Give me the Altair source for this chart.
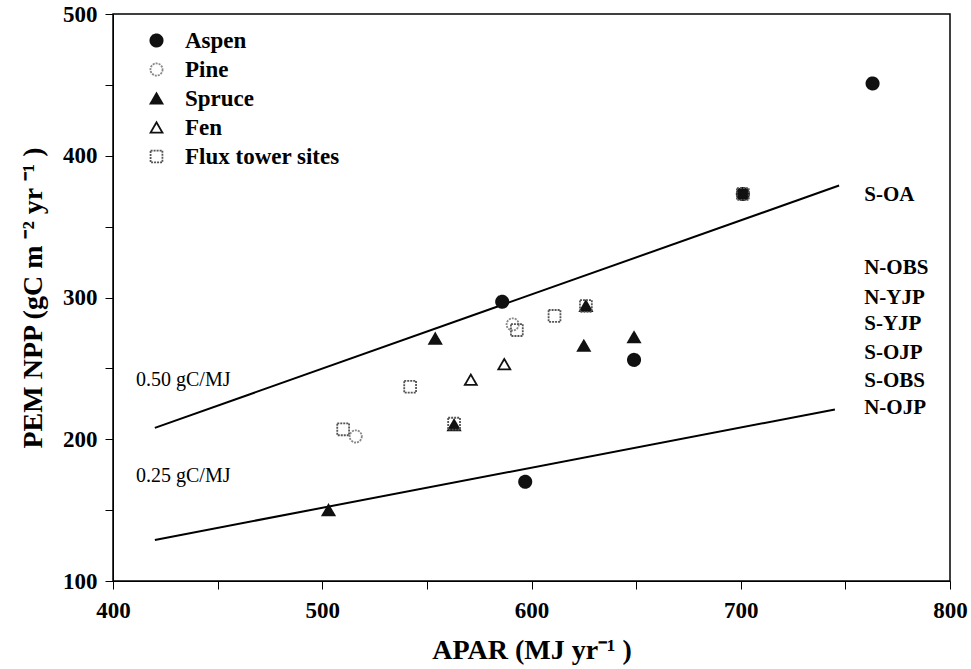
import altair as alt
import pandas as pd

# ---- data ----
series_names = ["Aspen", "Pine", "Spruce", "Fen", "Flux tower sites"]

aspen_x = [763, 701, 586, 649, 597]
aspen_y = [451, 373, 297, 256, 170]
pine_x = [516, 591]
pine_y = [202, 281]
spruce_x = [503, 554, 563, 626, 625, 649]
spruce_y = [150, 271, 210, 294, 266, 272]
fen_x = [571, 587]
fen_y = [242, 253]
flux_x = [701, 626, 611, 593, 542, 510, 563]
flux_y = [373, 294, 287, 277, 237, 207, 211]

line_names = ["0.50 gC/MJ", "0.25 gC/MJ"]
line_x_start = [420, 420]
line_x_end = [747, 745]
line_y_start = [208, 129]
line_y_end = [379, 221]
line_label_x = [411, 411]
line_label_y = [242, 174]

site_labels = ["S-OA", "N-OBS", "N-YJP", "S-YJP", "S-OJP", "S-OBS", "N-OJP"]
site_label_y = [372, 321, 300, 281, 261, 241, 222]
site_label_x = 759

x_ticks = list(range(400, 801, 50))
y_ticks = list(range(100, 501, 50))

# ---- tables ----
rows = []
for name, xs, ys in [("Aspen", aspen_x, aspen_y), ("Pine", pine_x, pine_y),
                     ("Spruce", spruce_x, spruce_y), ("Fen", fen_x, fen_y),
                     ("Flux tower sites", flux_x, flux_y)]:
    for a, b in zip(xs, ys):
        rows.append({"series": name, "apar": a, "npp": b})
pts = pd.DataFrame(rows)

lines = pd.DataFrame(
    [{"line": n, "apar": xs, "npp": ys} for n, xs, ys in zip(line_names, line_x_start, line_y_start)]
    + [{"line": n, "apar": xe, "npp": ye} for n, xe, ye in zip(line_names, line_x_end, line_y_end)]
)
line_lab = pd.DataFrame({"label": line_names, "apar": line_label_x, "npp": line_label_y})
sites = pd.DataFrame({"label": site_labels, "apar": [site_label_x] * len(site_labels), "npp": site_label_y})

SERIF = "Liberation Serif"

xscale = alt.Scale(domain=[400, 800], nice=False, zero=False)
yscale = alt.Scale(domain=[100, 500], nice=False, zero=False)

xaxis = alt.Axis(values=x_ticks, labelExpr="datum.value % 100 == 0 ? datum.label : ''",
                 grid=False, tickSize=8, labelPadding=10, labelFontSize=23, labelFont=SERIF,
                 labelFontWeight="bold", titleFontSize=28, titleFont=SERIF, titleFontWeight="bold",
                 titlePadding=14, domainColor="black", tickColor="black", labelColor="black",
                 titleColor="black", labelFlush=False)
yaxis = alt.Axis(values=y_ticks, labelExpr="datum.value % 100 == 0 ? datum.label : ''",
                 grid=False, tickSize=8, labelPadding=8, labelFontSize=23, labelFont=SERIF,
                 labelFontWeight="bold", titleFontSize=28, titleFont=SERIF, titleFontWeight="bold",
                 titlePadding=15, domainColor="black", tickColor="black", labelColor="black",
                 titleColor="black", labelFlush=False)

shape_range = ["circle", "circle", "triangle-up", "triangle-up", "square"]
fill_range = ["#111111", "transparent", "#111111", "transparent", "transparent"]
stroke_range = ["#111111", "#888888", "#111111", "#111111", "#555555"]
size_range = [150, 140, 230, 230, 420]
dash_range = [[1, 0], [2, 1], [1, 0], [1, 0], [2, 1]]

points = alt.Chart(pts).mark_point(strokeWidth=1.8, opacity=1).encode(
    x=alt.X("apar:Q", scale=xscale, axis=xaxis, title="APAR (MJ yr⁻¹ )"),
    y=alt.Y("npp:Q", scale=yscale, axis=yaxis, title="PEM NPP (gC m ⁻² yr ⁻¹ )"),
    shape=alt.Shape("series:N", scale=alt.Scale(domain=series_names, range=shape_range),
                    legend=alt.Legend(orient="none", legendX=32, legendY=15, title=None,
                                      labelFont=SERIF, labelFontSize=23, labelFontWeight="bold",
                                      labelColor="black", rowPadding=5, symbolStrokeWidth=1.8,
                                      labelOffset=17, padding=0, labelLimit=0)),
    fill=alt.Fill("series:N", scale=alt.Scale(domain=series_names, range=fill_range)),
    stroke=alt.Stroke("series:N", scale=alt.Scale(domain=series_names, range=stroke_range)),
    size=alt.Size("series:N", scale=alt.Scale(domain=series_names, range=size_range)),
    strokeDash=alt.StrokeDash("series:N", scale=alt.Scale(domain=series_names, range=dash_range)),
)

rule_lines = alt.Chart(lines).mark_line(color="black", strokeWidth=2).encode(
    x=alt.X("apar:Q", scale=xscale),
    y=alt.Y("npp:Q", scale=yscale),
    detail="line:N",
)

line_text = alt.Chart(line_lab).mark_text(align="left", baseline="middle", font=SERIF,
                                          fontSize=20, color="black").encode(
    x=alt.X("apar:Q", scale=xscale), y=alt.Y("npp:Q", scale=yscale), text="label:N")

site_text = alt.Chart(sites).mark_text(align="left", baseline="middle", font=SERIF,
                                       fontSize=21, fontWeight="bold", color="black").encode(
    x=alt.X("apar:Q", scale=xscale), y=alt.Y("npp:Q", scale=yscale), text="label:N")

chart = alt.layer(rule_lines, points, line_text, site_text).properties(
    width=837, height=567,
    autosize=alt.AutoSizeParams(type="none"),
    padding={"left": 113, "top": 14, "right": 21, "bottom": 88},
    background="white",
).configure_view(stroke="black", strokeWidth=1.5)

chart.save("out.html", embed_options={"renderer": "svg", "actions": False})
